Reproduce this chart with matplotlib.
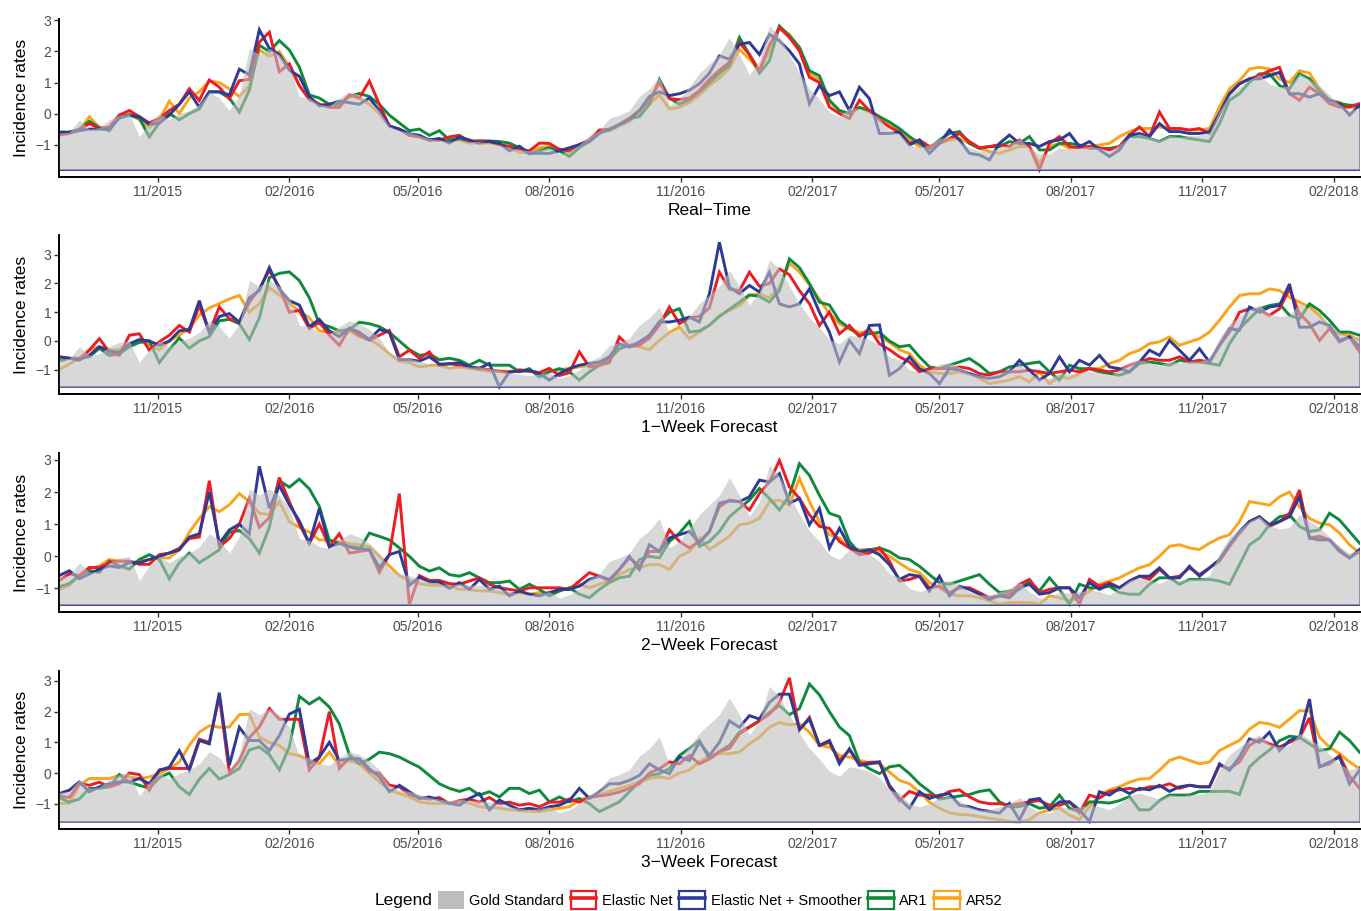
import numpy as np
import pandas as pd
import matplotlib
matplotlib.use('Agg')
import matplotlib.pyplot as plt
import matplotlib.dates as mdates
from matplotlib.patches import Patch, Rectangle
from matplotlib.lines import Line2D
from matplotlib.legend_handler import HandlerTuple

plt.rcParams['font.family'] = ['Liberation Sans', 'DejaVu Sans']

# ---------------- data ----------------
start_date = '2015-08-24'
n_weeks = 131
dates = pd.date_range(start_date, periods=n_weeks, freq='7D')

gold = [-0.63, -0.6, -0.2, -0.5, -0.45, -0.2, -0.05, 0.0, -0.75, -0.3,
        0.0, -0.2, 0.0, 0.1, 0.3, 0.7, 0.5, 0.1, 0.6, 2.1,
        1.9, 2.1, 1.9, 1.5, 0.55, 0.5, 0.3, 0.25, 0.5, 0.7,
        0.6, 0.4, 0.1, -0.4, -0.55, -0.6, -0.7, -0.8, -0.85, -0.9,
        -0.85, -0.9, -0.9, -0.95, -1.0, -1.1, -1.15, -1.2, -1.15, -1.1,
        -1.3, -1.2, -1.0, -0.7, -0.55, -0.15, -0.05, 0.1, 0.55, 0.8,
        1.18, 0.26, 0.46, 0.87, 1.3, 1.6, 1.9, 2.45, 1.9, 1.25,
        1.7, 2.83, 2.5, 1.9, 1.3, 0.8, 0.46, 0.05, -0.1, 0.2,
        0.15, 0.05, -0.15, -0.55, -0.65, -1.0, -1.1, -1.0, -0.8, -0.75,
        -0.9, -1.1, -1.2, -1.2, -1.1, -1.0, -0.8, -1.1, -1.3, -1.3,
        -1.1, -1.15, -1.1, -1.05, -1.1, -1.2, -1.0, -0.75, -0.65, -0.75,
        -0.85, -0.7, -0.75, -0.7, -0.7, -0.6, 0.1, 0.6, 0.85, 1.1,
        1.25, 0.95, 0.85, 0.9, 1.3, 1.1, 0.9, 0.6, 0.3, 0.1,
        0.2]

# Real-Time
rt_en = [-0.69, -0.64, -0.53, -0.32, -0.48, -0.43, -0.05, 0.1, -0.1, -0.3,
         -0.15, 0.1, 0.3, 0.8, 0.42, 1.08, 0.85, 0.48, 1.06, 1.1,
         2.3, 2.62, 1.35, 1.6, 0.9, 0.45, 0.3, 0.2, 0.2, 0.6,
         0.5, 1.05, 0.3, -0.4, -0.5, -0.7, -0.75, -0.85, -0.85, -0.75,
         -0.7, -0.9, -0.88, -0.9, -1.0, -1.05, -1.15, -1.2, -0.95, -0.96,
         -1.15, -1.2, -1.0, -0.85, -0.53, -0.5, -0.35, -0.15, 0.1, 0.43,
         1.0, 0.48, 0.45, 0.5, 0.74, 1.1, 1.4, 1.65, 2.29, 1.9,
         1.38, 2.2, 2.77, 2.45, 2.02, 1.17, 1.0, 0.21, 0.0, -0.16,
         0.43, 0.1, -0.2, -0.43, -0.6, -0.96, -0.85, -1.06, -0.96, -0.8,
         -0.64, -0.9, -1.1, -1.06, -1.0, -1.06, -0.85, -1.06, -1.8, -0.96,
         -0.74, -1.06, -1.1, -1.06, -1.1, -1.17, -1.06, -0.69, -0.43, -0.74,
         0.05, -0.48, -0.48, -0.53, -0.48, -0.64, 0.0, 0.64, 0.96, 1.12,
         1.22, 1.38, 1.49, 0.64, 0.43, 0.85, 0.64, 0.32, 0.21, 0.21,
         0.32]
rt_ens = [-0.6, -0.6, -0.55, -0.5, -0.5, -0.5, -0.15, -0.05, -0.1, -0.35,
          -0.3, -0.05, 0.3, 0.7, 0.2, 0.7, 0.7, 0.6, 1.43, 1.25,
          2.7, 2.1, 1.9, 1.4, 1.2, 0.55, 0.25, 0.3, 0.4, 0.35,
          0.3, 0.5, 0.1, -0.4, -0.5, -0.65, -0.7, -0.85, -0.8, -0.95,
          -0.75, -0.85, -0.95, -0.9, -0.95, -1.2, -1.05, -1.28, -1.28, -1.28,
          -1.2, -1.1, -1.0, -0.9, -0.64, -0.5, -0.35, -0.2, 0.1, 0.55,
          0.7, 0.58, 0.64, 0.75, 0.96, 1.3, 1.86, 1.75, 2.23, 2.29,
          1.9, 2.55, 2.34, 2.02, 1.6, 0.32, 0.9, 0.58, 0.7, 0.1,
          0.85, 0.48, -0.64, -0.64, -0.6, -1.01, -0.85, -1.28, -0.96, -0.53,
          -0.85, -1.28, -1.33, -1.49, -0.96, -0.69, -0.96, -0.96, -1.06, -0.9,
          -0.85, -0.64, -1.06, -0.9, -1.17, -1.38, -1.17, -0.69, -0.64, -0.74,
          -0.32, -0.58, -0.58, -0.64, -0.64, -0.58, 0.0, 0.64, 0.96, 1.12,
          1.12, 1.22, 1.33, 0.64, 0.64, 0.53, 0.64, 0.43, 0.32, -0.05,
          0.27]
rt_ar1 = [-0.6, -0.6, -0.5, -0.25, -0.45, -0.55, -0.1, -0.05, -0.15, -0.75,
          -0.3, 0.0, -0.2, 0.0, 0.15, 0.7, 0.7, 0.5, 0.05, 0.75,
          2.2, 2.0, 2.35, 2.05, 1.5, 0.6, 0.5, 0.3, 0.3, 0.55,
          0.65, 0.55, 0.3, -0.05, -0.3, -0.55, -0.5, -0.7, -0.55, -0.85,
          -0.8, -0.9, -0.88, -0.88, -0.9, -0.95, -1.1, -1.3, -1.2, -1.1,
          -1.2, -1.38, -1.1, -0.9, -0.6, -0.53, -0.35, -0.15, -0.1, 0.3,
          1.1, 0.5, 0.3, 0.45, 0.7, 1.0, 1.3, 1.55, 2.45, 1.9,
          1.3, 1.7, 2.82, 2.5, 2.13, 1.38, 1.22, 0.43, 0.1, 0.0,
          0.2, 0.1, -0.1, -0.27, -0.48, -0.74, -0.96, -1.12, -0.85, -0.64,
          -0.58, -0.96, -1.12, -1.06, -1.06, -0.9, -0.96, -0.74, -1.17, -1.17,
          -0.96, -0.96, -1.01, -1.12, -1.12, -1.12, -1.06, -0.74, -0.74, -0.8,
          -0.9, -0.74, -0.74, -0.8, -0.85, -0.9, -0.32, 0.43, 0.64, 1.01,
          1.28, 1.28, 0.9, 0.8, 1.28, 1.12, 0.74, 0.43, 0.32, 0.27,
          0.27]
rt_ar52 = [-0.7, -0.6, -0.55, -0.1, -0.45, -0.45, -0.05, 0.0, -0.2, -0.45,
           -0.2, 0.4, 0.0, 0.5, 0.7, 1.05, 1.0, 0.8, 0.55, 0.9,
           2.05, 1.85, 2.0, 1.5, 0.9, 0.5, 0.3, 0.3, 0.3, 0.6,
           0.5, 0.3, 0.0, -0.4, -0.5, -0.7, -0.75, -0.85, -0.85, -0.85,
           -0.85, -0.95, -0.95, -0.95, -1.0, -1.1, -1.25, -1.25, -1.1, -1.05,
           -1.15, -1.25, -1.0, -0.85, -0.6, -0.55, -0.4, -0.25, 0.0, 0.3,
           0.6, 0.15, 0.2, 0.35, 0.6, 0.9, 1.15, 1.45, 2.07, 1.75,
           1.4, 2.0, 2.77, 2.55, 2.13, 1.28, 1.1, 0.38, 0.1, 0.0,
           0.2, 0.05, -0.1, -0.32, -0.53, -0.85, -1.06, -1.06, -0.96, -0.85,
           -0.8, -0.96, -1.12, -1.22, -1.28, -1.17, -1.06, -1.06, -1.6, -1.06,
           -0.96, -1.12, -1.06, -1.06, -1.01, -0.96, -0.74, -0.58, -0.48, -0.48,
           -0.43, -0.48, -0.48, -0.53, -0.53, -0.48, 0.21, 0.8, 1.06, 1.44,
           1.49, 1.44, 1.12, 1.0, 1.38, 1.3, 0.8, 0.43, 0.37, 0.21,
           0.21]

# 1-Week Forecast
w1_en = [-0.55, -0.6, -0.67, -0.32, 0.08, -0.38, -0.5, 0.2, 0.25, -0.32,
         -0.03, 0.2, 0.54, 0.31, 1.23, 0.31, 1.18, 0.77, 0.66, 1.35,
         1.81, 2.45, 1.87, 1.0, 1.06, 0.43, 0.66, 0.2, -0.15, 0.43,
         0.2, 0.02, 0.2, 0.37, -0.55, -0.32, -0.6, -0.38, -0.84, -0.78,
         -0.85, -0.9, -0.95, -1.0, -1.05, -1.1, -1.0, -1.05, -1.1, -0.95,
         -1.2, -1.1, -0.38, -0.9, -0.85, -0.75, 0.14, -0.2, -0.15, 0.1,
         0.55, 1.18, 0.6, 0.8, 0.85, 1.15, 2.39, 1.8, 1.75, 2.39,
         1.9, 2.0, 2.5, 2.3, 1.75, 1.3, 0.54, 1.0, 0.25, 0.54,
         0.15, 0.43, -0.1, -0.3, -0.55, -0.73, -1.07, -0.96, -0.96, -0.96,
         -0.9, -0.96, -1.13, -1.19, -1.07, -1.07, -1.07, -1.01, -1.07, -1.13,
         -1.07, -1.01, -1.07, -0.96, -1.01, -1.07, -1.01, -0.84, -0.73, -0.61,
         -0.67, -0.67, -0.55, -0.73, -0.67, -0.73, -0.15, 0.31, 1.0, 1.12,
         1.06, 0.89, 1.12, 1.81, 0.95, 0.6, 0.02, 0.43, -0.03, 0.14,
         -0.38]
w1_ens = [-0.55, -0.6, -0.65, -0.5, -0.2, -0.35, -0.4, -0.1, 0.05, 0.0,
          -0.15, 0.0, 0.35, 0.4, 1.4, 0.3, 0.85, 0.95, 0.65, 1.5,
          1.75, 2.55, 1.8, 1.4, 1.25, 0.5, 0.75, 0.35, 0.15, 0.45,
          0.3, 0.05, 0.4, 0.3, -0.65, -0.65, -0.7, -0.55, -0.8, -0.8,
          -0.75, -0.9, -0.95, -0.78, -1.59, -1.07, -1.05, -1.02, -1.13, -1.36,
          -1.13, -0.96, -0.84, -0.78, -0.73, -0.55, -0.1, -0.21, -0.03, 0.2,
          0.66, 0.66, 0.72, 0.83, 0.66, 1.64, 3.43, 1.87, 1.64, 1.93,
          1.7, 2.39, 1.29, 1.18, 1.29, 1.81, 1.0, 0.31, -0.73, 0.02,
          -0.44, 0.54, 0.56, -1.19, -0.96, -0.55, -0.96, -1.13, -1.48, -0.96,
          -1.01, -1.13, -1.24, -1.3, -1.24, -1.07, -0.67, -1.01, -1.36, -1.13,
          -0.55, -1.07, -0.67, -0.84, -0.5, -0.9, -0.96, -1.07, -0.73, -0.32,
          -0.5, 0.02, -0.32, -0.67, -0.27, -0.73, -0.15, 0.43, 0.37, 1.18,
          1.0, 1.18, 1.23, 1.98, 0.48, 0.48, 0.66, 0.54, 0.02, 0.14,
          -0.2]
w1_ar1 = [-0.7, -0.6, -0.6, -0.55, -0.25, -0.5, -0.45, -0.2, -0.05, 0.0,
          -0.75, -0.3, 0.1, -0.25, 0.0, 0.15, 0.7, 0.75, 0.6, 0.05,
          0.8, 2.2, 2.35, 2.4, 2.1, 1.5, 0.6, 0.5, 0.35, 0.4,
          0.65, 0.6, 0.5, 0.3, 0.0, -0.3, -0.5, -0.45, -0.65, -0.6,
          -0.67, -0.84, -0.67, -0.84, -0.84, -0.84, -1.07, -0.96, -1.25, -1.07,
          -0.96, -1.07, -1.36, -1.07, -0.84, -0.61, -0.27, -0.15, -0.1, 0.2,
          0.66, 1.0, 1.12, 0.31, 0.35, 0.55, 0.85, 1.1, 1.35, 1.6,
          1.55, 1.35, 1.75, 2.85, 2.55, 2.0, 1.35, 1.25, 0.7, 0.45,
          0.2, 0.25, 0.3, 0.0, -0.2, -0.15, -0.55, -0.9, -0.96, -0.84,
          -0.73, -0.61, -0.84, -1.13, -1.07, -0.9, -0.84, -0.78, -0.73, -1.07,
          -1.36, -0.84, -0.96, -0.96, -1.07, -1.13, -1.19, -1.07, -0.78, -0.73,
          -0.78, -0.84, -0.67, -0.73, -0.73, -0.78, -0.84, -0.1, 0.43, 0.77,
          1.12, 1.23, 1.29, 0.89, 0.77, 1.29, 1.06, 0.72, 0.31, 0.31,
          0.2]
w1_ar52 = [-1.0, -0.8, -0.6, -0.3, -0.2, -0.3, -0.3, -0.1, 0.0, -0.15,
           -0.3, 0.0, 0.2, 0.45, 0.9, 1.15, 1.3, 1.46, 1.58, 1.0,
           1.3, 1.85, 1.6, 1.3, 1.05, 0.8, 0.35, 0.3, 0.3, 0.35,
           0.15, 0.05, -0.15, -0.45, -0.7, -0.75, -0.9, -0.85, -0.85, -0.95,
           -0.9, -0.95, -1.0, -1.05, -1.05, -1.05, -1.05, -1.05, -1.1, -1.05,
           -1.0, -0.95, -0.9, -0.85, -0.75, -0.65, -0.27, -0.15, -0.2, -0.3,
           0.02, 0.3, 0.48, 0.08, 0.31, 0.54, 0.89, 1.06, 1.23, 1.58,
           1.64, 1.5, 1.87, 2.7, 2.4, 1.95, 1.45, 0.95, 0.6, 0.4,
           0.3, 0.3, 0.15, -0.05, -0.3, -0.44, -0.84, -1.07, -1.13, -1.13,
           -1.07, -1.13, -1.3, -1.48, -1.42, -1.36, -1.24, -1.42, -1.07, -1.48,
           -1.24, -1.3, -1.13, -0.96, -0.96, -0.78, -0.67, -0.44, -0.32, -0.09,
           -0.03, 0.14, -0.15, -0.03, 0.08, 0.31, 0.72, 1.18, 1.58, 1.64,
           1.64, 1.81, 1.75, 1.52, 1.35, 1.18, 0.89, 0.43, 0.25, 0.2,
           0.02]

# 2-Week Forecast
w2_en = [-0.75, -0.55, -0.6, -0.35, -0.35, -0.2, -0.15, -0.15, -0.25, -0.25,
         0.05, 0.1, 0.25, 0.55, 0.6, 2.35, 0.3, 0.55, 1.0, 1.8,
         0.9, 1.2, 2.45, 1.7, 1.0, 0.4, 1.0, 0.3, 0.7, 0.1,
         0.15, 0.2, -0.5, 0.05, 1.95, -1.5, -0.6, -0.75, -0.75, -0.85,
         -0.87, -0.77, -0.67, -0.87, -0.98, -1.03, -1.08, -0.98, -0.98, -0.98,
         -0.98, -1.03, -0.77, -0.51, -0.62, -0.77, -0.41, -0.05, -0.31, 0.15,
         0.15, 0.82, 0.46, 0.26, 0.46, 0.77, 1.54, 1.75, 1.7, 1.44,
         1.95, 2.31, 2.98, 2.16, 1.8, 1.29, 0.93, 0.87, 0.46, 0.26,
         0.05, 0.1, 0.26, -0.15, -0.77, -0.72, -0.62, -0.98, -0.93, -1.13,
         -0.98, -0.98, -1.13, -1.29, -1.23, -1.18, -0.87, -0.72, -1.13, -1.03,
         -0.98, -0.98, -1.49, -0.72, -0.93, -0.82, -0.98, -0.77, -0.62, -0.72,
         -0.41, -0.67, -0.62, -0.36, -0.57, -0.36, -0.15, 0.31, 0.72, 1.08,
         1.23, 0.93, 1.08, 1.34, 2.06, 0.57, 0.62, 0.51, 0.21, -0.05,
         0.15]
w2_ens = [-0.6, -0.45, -0.7, -0.55, -0.4, -0.3, -0.35, -0.2, -0.2, -0.1,
          0.0, 0.1, 0.2, 0.6, 0.7, 2.0, 0.4, 0.82, 1.0, 0.7,
          2.8, 1.5, 2.2, 1.6, 1.1, 0.4, 1.49, 0.3, 0.4, 0.3,
          0.25, 0.2, -0.35, 0.05, 0.15, -0.9, -0.65, -0.8, -0.8, -1.0,
          -0.82, -1.03, -0.72, -1.03, -0.93, -1.23, -1.08, -1.18, -1.23, -1.13,
          -1.03, -1.03, -0.93, -0.72, -0.62, -0.72, -0.41, 0.0, -0.41, 0.36,
          0.15, 0.57, 0.67, 0.77, 0.41, 0.77, 1.65, 1.72, 1.7, 1.85,
          2.37, 2.31, 2.57, 1.65, 1.8, 0.98, 1.49, 0.26, 0.87, 0.31,
          0.15, 0.2, 0.05, -0.26, -0.72, -0.57, -0.62, -1.08, -0.62, -1.23,
          -0.93, -1.03, -1.18, -1.34, -1.23, -1.29, -0.98, -0.87, -1.18, -1.13,
          -0.98, -0.98, -1.29, -0.82, -1.03, -0.87, -0.98, -0.77, -0.62, -0.62,
          -0.36, -0.67, -0.67, -0.31, -0.62, -0.36, -0.1, 0.36, 0.77, 1.08,
          1.23, 0.98, 1.08, 1.23, 1.85, 0.57, 0.51, 0.51, 0.15, -0.05,
          0.21]
w2_ar1 = [-0.95, -0.85, -0.6, -0.45, -0.5, -0.15, -0.3, -0.4, -0.1, 0.05,
          -0.1, -0.7, -0.2, 0.1, -0.2, 0.0, 0.2, 0.75, 0.8, 0.55,
          0.1, 0.9, 2.35, 2.15, 2.4, 2.1, 1.55, 0.5, 0.4, 0.3,
          0.2, 0.72, 0.62, 0.51, 0.26, 0.0, -0.31, -0.46, -0.36, -0.57,
          -0.62, -0.51, -0.67, -0.82, -0.82, -0.77, -1.03, -0.87, -1.03, -1.23,
          -1.08, -0.98, -1.18, -1.29, -1.03, -0.82, -0.67, -0.62, -0.1, 0.0,
          -0.05, 0.46, 0.72, 1.08, 0.31, 0.46, 0.77, 1.23, 1.49, 1.75,
          2.11, 1.8, 1.44, 1.9, 2.88, 2.52, 1.9, 1.34, 1.23, 0.46,
          0.1, 0.2, 0.26, 0.15, -0.05, -0.1, -0.31, -0.57, -0.82, -0.87,
          -0.77, -0.67, -0.57, -0.87, -1.13, -1.08, -1.03, -0.77, -1.08, -0.67,
          -1.03, -1.49, -0.87, -0.98, -0.98, -0.93, -1.13, -1.18, -1.18, -0.87,
          -0.67, -0.67, -0.87, -0.72, -0.72, -0.72, -0.77, -0.87, -0.26, 0.36,
          0.57, 0.98, 1.23, 1.29, 0.93, 0.77, 0.82, 1.34, 1.13, 0.77,
          0.41]
w2_ar52 = [-1.05, -0.9, -0.6, -0.4, -0.3, -0.1, -0.15, -0.2, -0.15, -0.1,
           -0.05, -0.05, 0.2, 0.75, 1.18, 1.54, 1.39, 1.6, 1.95, 1.7,
           1.34, 1.3, 1.7, 1.08, 0.9, 0.75, 0.51, 0.5, 0.45, 0.4,
           0.35, 0.3, 0.0, -0.3, -0.6, -0.75, -0.85, -0.9, -0.9, -0.9,
           -1.03, -1.03, -1.08, -1.08, -1.13, -1.18, -1.13, -1.18, -1.13, -1.13,
           -1.08, -0.98, -0.87, -0.98, -0.87, -0.77, -0.57, -0.41, -0.36, -0.26,
           -0.26, -0.41, 0.0, 0.15, 0.57, 0.21, 0.41, 0.62, 0.98, 1.03,
           1.18, 1.7, 1.75, 1.59, 2.42, 1.7, 1.08, 0.67, 0.57, 0.26,
           0.21, 0.21, 0.15, 0.0, -0.21, -0.41, -0.51, -0.82, -0.98, -1.18,
           -1.23, -1.23, -1.29, -1.39, -1.49, -1.44, -1.44, -1.44, -1.49, -1.23,
           -1.29, -1.39, -1.29, -1.08, -0.87, -0.77, -0.67, -0.51, -0.36, -0.26,
           0.0, 0.31, 0.36, 0.26, 0.21, 0.41, 0.57, 0.67, 1.08, 1.7,
           1.65, 1.59, 1.85, 2.0, 1.54, 1.18, 1.03, 0.98, 0.72, 0.36,
           0.1]

# 3-Week Forecast
w3_en = [-0.75, -0.8, -0.35, -0.4, -0.3, -0.45, -0.35, 0.0, -0.05, -0.56,
         0.1, 0.15, 0.15, 0.15, 1.1, 1.0, 2.5, 0.0, 0.4, 1.15,
         1.5, 2.1, 1.75, 1.75, 1.75, 0.1, 0.5, 2.0, 0.15, 0.5,
         0.45, 0.05, 0.0, -0.4, -0.45, -0.7, -0.8, -0.85, -0.8, -1.0,
         -0.9, -0.85, -0.95, -0.8, -1.0, -0.95, -1.05, -1.0, -1.1, -0.95,
         -0.95, -0.85, -0.95, -0.8, -0.75, -0.7, -0.62, -0.5, -0.35, 0.0,
         0.14, 0.36, 0.3, 0.57, 0.3, 0.46, 0.7, 0.8, 1.27, 1.5,
         1.7, 1.92, 2.3, 3.1, 1.4, 1.81, 0.9, 1.0, 0.4, 0.75,
         0.3, 0.35, 0.36, -0.45, -0.9, -0.6, -0.72, -0.72, -0.78, -0.6,
         -0.55, -0.78, -0.94, -1.0, -1.0, -1.05, -1.0, -0.94, -0.9, -1.05,
         -1.05, -0.94, -1.3, -0.72, -0.82, -0.6, -0.55, -0.5, -0.55, -0.45,
         -0.45, -0.35, -0.5, -0.4, -0.45, -0.45, 0.25, 0.14, 0.36, 0.9,
         1.1, 0.95, 0.85, 1.0, 1.15, 1.8, 0.2, 0.3, 0.57, -0.1,
         -0.5]
w3_ens = [-0.67, -0.56, -0.29, -0.61, -0.45, -0.35, -0.29, -0.29, -0.18, -0.35,
          0.09, 0.19, 0.73, 0.09, 1.06, 0.95, 2.62, 0.25, 1.49, 1.06,
          1.06, 0.73, 1.22, 1.92, 2.08, 0.3, 0.52, 1.0, 0.41, 0.46,
          0.46, 0.14, -0.13, -0.61, -0.4, -0.61, -0.83, -0.78, -0.88, -0.99,
          -1.05, -0.83, -0.67, -1.2, -0.88, -1.05, -1.2, -1.15, -1.2, -1.1,
          -1.05, -0.9, -0.5, -0.83, -0.61, -0.35, -0.35, -0.24, -0.08, 0.3,
          0.1, -0.02, 0.52, 0.41, 1.0, 0.57, 1.0, 1.7, 1.49, 1.87,
          1.76, 2.3, 2.57, 2.57, 1.43, 1.76, 0.9, 1.06, 0.3, 0.79,
          0.25, 0.3, 0.36, -0.4, -0.83, -1.15, -0.61, -0.83, -0.72, -0.67,
          -1.05, -1.1, -1.2, -1.25, -1.31, -0.99, -1.53, -0.88, -0.83, -1.2,
          -0.94, -0.94, -1.2, -1.58, -0.61, -0.72, -0.5, -0.67, -0.5, -0.55,
          -0.4, -0.6, -0.45, -0.4, -0.45, -0.45, 0.3, 0.09, 0.52, 1.11,
          1.0, 1.33, 0.73, 1.06, 1.16, 2.41, 0.2, 0.36, 0.52, -0.35,
          0.09]
w3_ar1 = [-0.8, -0.95, -0.85, -0.5, -0.5, -0.45, -0.05, -0.3, -0.4, -0.5,
          -0.15, 0.0, -0.45, -0.7, -0.2, 0.15, -0.2, -0.05, 0.15, 0.75,
          0.85, 0.6, 0.1, 0.85, 2.5, 2.25, 2.45, 2.15, 1.6, 0.6,
          0.3, 0.45, 0.68, 0.63, 0.52, 0.35, 0.19, -0.08, -0.35, -0.5,
          -0.6, -0.5, -0.72, -0.61, -0.78, -0.5, -0.5, -0.67, -0.56, -0.94,
          -0.78, -0.94, -0.83, -1.0, -1.26, -1.1, -0.94, -0.61, -0.29, -0.08,
          -0.02, 0.14, 0.57, 0.8, 1.06, 0.46, 0.7, 0.9, 1.33, 1.5,
          1.7, 1.97, 2.2, 1.9, 2.1, 2.9, 2.55, 2.0, 1.5, 1.22,
          0.36, 0.14, -0.02, 0.2, 0.25, -0.02, -0.35, -0.6, -0.85, -0.8,
          -0.75, -0.7, -0.6, -0.55, -0.94, -1.1, -1.1, -1.0, -1.15, -1.1,
          -0.72, -1.15, -1.26, -0.94, -0.95, -0.98, -0.9, -0.77, -1.2, -1.2,
          -0.9, -0.72, -0.72, -0.72, -0.6, -0.6, -0.6, -0.6, -0.7, 0.2,
          0.5, 0.75, 1.05, 1.2, 1.16, 0.95, 0.73, 0.79, 1.33, 1.06,
          0.68]
w3_ar52 = [-0.99, -0.99, -0.4, -0.18, -0.18, -0.18, -0.08, -0.13, -0.18, -0.13,
           -0.02, 0.14, 0.36, 0.9, 1.33, 1.54, 1.49, 1.5, 1.9, 1.92,
           1.17, 1.0, 0.9, 0.63, 0.57, 0.41, 0.3, 0.68, 0.25, 0.41,
           0.3, 0.0, -0.29, -0.56, -0.67, -0.78, -0.94, -0.99, -0.99, -0.99,
           -0.94, -0.98, -1.1, -1.13, -1.15, -1.2, -1.22, -1.25, -1.26, -1.2,
           -1.15, -1.1, -0.88, -0.78, -0.72, -0.6, -0.5, -0.4, -0.3, -0.18,
           -0.13, -0.18, 0.0, 0.1, 0.36, 0.57, 0.63, 0.63, 0.68, 0.95,
           1.17, 1.49, 1.65, 1.57, 1.6, 1.33, 0.9, 0.84, 0.57, 0.52,
           0.41, 0.33, 0.3, 0.03, -0.24, -0.35, -0.62, -0.95, -1.15, -1.3,
           -1.35, -1.37, -1.42, -1.48, -1.52, -1.58, -1.6, -1.52, -1.3, -1.2,
           -1.15, -1.37, -1.52, -1.1, -0.72, -0.55, -0.45, -0.3, -0.2, -0.18,
           0.09, 0.41, 0.52, 0.41, 0.3, 0.36, 0.73, 0.9, 1.06, 1.43,
           1.65, 1.6, 1.49, 1.76, 2.03, 2.03, 1.17, 0.84, 0.63, 0.36,
           0.14]

panel_titles = ['Real\u2212Time', '1\u2212Week Forecast', '2\u2212Week Forecast', '3\u2212Week Forecast']
panel_series = [
    (rt_en, rt_ens, rt_ar1, rt_ar52),
    (w1_en, w1_ens, w1_ar1, w1_ar52),
    (w2_en, w2_ens, w2_ar1, w2_ar52),
    (w3_en, w3_ens, w3_ar1, w3_ar52),
]
method_names = ['Elastic Net', 'Elastic Net + Smoother', 'AR1', 'AR52']
method_colors = ['#ec1c24', '#2e3a94', '#0f8a3c', '#f9a41a']
gold_color = '#bebebe'

# ---------------- figure ----------------
W, H = 1361, 911
fig = plt.figure(figsize=(W / 100, H / 100), dpi=100)

# panel (top, bottom) in pixels
panel_px = [(18.5, 176.7), (235, 394), (453.3, 611.7), (670.7, 829.3)]
left_px, right_px = 59.3, 1359.5

draw_order = [3, 2, 0, 1]  # AR52, AR1, EN, EN+Smoother (blue on top)

for k, (title, series) in enumerate(zip(panel_titles, panel_series)):
    top, bot = panel_px[k]
    ax = fig.add_axes([left_px / W, 1 - bot / H, (right_px - left_px) / W, (bot - top) / H])
    g = np.array(gold)
    allvals = np.concatenate([g] + [np.array(s) for s in series])
    base = allvals.min()

    for idx in draw_order:
        ax.plot(dates, series[idx], color=method_colors[idx], lw=2.1,
                solid_joinstyle='miter', zorder=2)

    # outline of the gold-standard ribbon (bottom + right edge)
    ax.plot([dates[-1], dates[-1], dates[0]], [g[-1], base, base],
            color='#2e3a94', lw=1.3, zorder=2.5, clip_on=True)
    ax.fill_between(dates, base, g, color=gold_color, alpha=0.6, lw=0, zorder=3)

    ax.set_xlim(dates[0], dates[-1])
    ax.margins(y=0.05)
    ax.set_yticks([-1, 0, 1, 2, 3])
    ax.xaxis.set_major_locator(mdates.MonthLocator(bymonth=[2, 5, 8, 11], bymonthday=1))
    ax.xaxis.set_major_formatter(mdates.DateFormatter('%m/%Y'))

    for side in ['top', 'right']:
        ax.spines[side].set_visible(False)
    for side in ['left', 'bottom']:
        ax.spines[side].set_linewidth(1.4)
        ax.spines[side].set_color('black')
    ax.tick_params(axis='both', length=3.5, width=1.0, color='#333333',
                   labelsize=10, labelcolor='#4d4d4d', pad=2.2)
    ax.set_xlabel(title, fontsize=12.5, color='black', labelpad=3)
    ax.set_ylabel('Incidence rates', fontsize=12.5, color='black', labelpad=5)
    ax.set_facecolor('white')

# ---------------- legend ----------------
handles = [Patch(facecolor=gold_color, edgecolor='none')]
for c in method_colors:
    handles.append((Rectangle((0, 0), 1, 1, fill=False, edgecolor=c, lw=1.6),
                    Line2D([], [], color=c, lw=2.6)))
labels = ['Gold Standard'] + method_names

fig.text(375 / W, 1 - 901 / H, 'Legend', fontsize=12.5, ha='left', va='center')
leg = fig.legend(handles, labels, loc='center left',
                 bbox_to_anchor=(438 / W, 1 - 900 / H), ncol=5, frameon=False,
                 fontsize=10.5, handlelength=1.75, handleheight=1.55,
                 handletextpad=0.4, columnspacing=0.45, borderpad=0, borderaxespad=0,
                 handler_map={tuple: HandlerTuple(ndivide=1)})

fig.savefig('out.png', dpi=100, facecolor='white')
